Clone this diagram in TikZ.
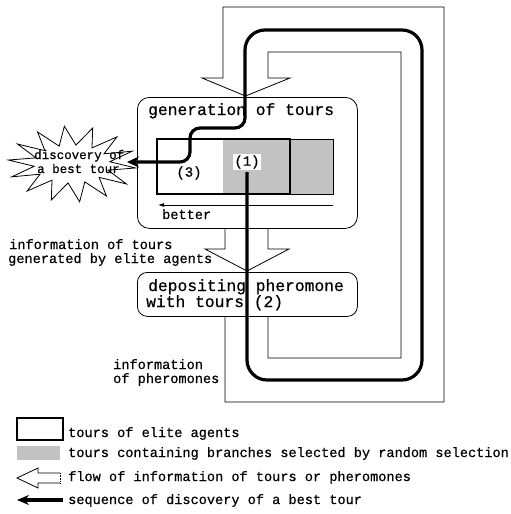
\documentclass[tikz,border=0pt]{standalone}
\usepackage{fontspec}
\setmainfont{Liberation Mono}[FakeBold=0.6]
\usetikzlibrary{arrows.meta}
\begin{document}
\begin{tikzpicture}[x=1pt,y=-1pt,
  thinline/.style={line width=0.8pt, line join=miter},
  box/.style={draw, line width=0.8pt, rounded corners=12, inner sep=0, anchor=north west},
  title/.style={font=\fontsize{16.3}{18}\selectfont, inner sep=0, anchor=base west},
  lbl/.style={font=\fontsize{13.6}{15}\selectfont, inner sep=0, anchor=base west},
  num/.style={font=\fontsize{14}{16}\selectfont, inner sep=1.5},
  shadefill/.style={fill=black!24},
  seq/.style={line width=3.2pt, draw=black},
]
\useasboundingbox (0,0) rectangle (511,514);

% boxes
\node[box, minimum width=220, minimum height=131] (gen) at (137,97) {};
\node[box, rounded corners=10, minimum width=220, minimum height=44] (dep) at (137,272) {};

% big loop band (information of pheromones)
\draw[thinline] (268,316) -- (268,358) -- (401,358) -- (401,52) -- (268,52) -- (268,78)
  -- (290,78) -- (245.5,96) -- (202,78) -- (223,78) -- (223,7) -- (444,7) -- (444,402)
  -- (225,402) -- (225,316);

% arrow generation -> depositing
\draw[thinline] (225,228) -- (225,249) -- (205,249) -- (247,271) -- (289,249) -- (268,249) -- (268,228);

% tours rectangle
\fill[shadefill] (223,139) rectangle (333,194);
\draw[line width=0.8pt] (157,139) rectangle (333,194);
\draw[line width=2.2pt] (157,139) rectangle (290,194);

% better arrow
\draw[line width=0.8pt, -{Latex[length=6,width=4]}] (333,205) -- (158,205);
\node[lbl] (better) at (162,219) {better};

% titles
\node[title] (gentitle) at (148,115) {generation of tours};
\node[title] (dep1) at (148,291) {depositing pheromone};
\node[title] (dep2) at (146,307) {with tours (2)};

% labels
\node[lbl] (info1) at (9,249) {information of tours};
\node[lbl] (info2) at (8,263) {generated by elite agents};
\node[lbl] (pher1) at (113,369) {information};
\node[lbl] (pher2) at (113,383) {of pheromones};

% starburst
\draw[line width=0.8pt, fill=white, line join=miter] plot[domain=0:28, samples=29, variable=\k]
  ({72 + (mod(round(\k),2)==0 ? 64 : 38)*cos(\k*360/28 + 6)},
   {164 + (mod(round(\k),2)==0 ? 38 : 19)*sin(\k*360/28 + 6)}) -- cycle;
\node[font=\fontsize{12.5}{14}\selectfont, inner sep=0, anchor=base west] (disc1) at (34,159) {discovery of};
\node[font=\fontsize{12.5}{14}\selectfont, inner sep=0, anchor=base west] (disc2) at (37,173) {a best tour};
\coordinate (discend) at (127,162);

% numbers
\node[num, fill=white] (one) at (247,162) {(1)};
\node[num] (three) at (189,173) {(3)};

% sequence of discovery of a best tour
\draw[seq, -{Stealth[length=12,width=11]}] (one.south) ++(0,2)
  [rounded corners=20] -- (247,380) -- (422,380) -- (422,30) -- (245,30)
  [rounded corners=10] -- (245,128) -- (190,128) -- (190,162) -- (discend);

% legend
\draw[line width=2.2pt] (17,418) rectangle (63,440);
\node[lbl] (leg1) at (68,437) {tours of elite agents};
\fill[shadefill] (17,446) rectangle (60,460);
\node[lbl] (leg2) at (68,457) {tours containing branches selected by random selection};
\draw[thinline] (60,473) -- (38,473) -- (38,468) -- (17,478) -- (38,488) -- (38,483) -- (60,483);
\draw[line width=0.6pt, densely dotted] (60,473) -- (60,483);
\node[lbl] (leg3) at (68,481) {flow of information of tours or pheromones};
\coordinate (legA) at (63,500);
\coordinate (legB) at (17,500);
\draw[seq, -{Stealth[length=12,width=10]}] (legA) -- (legB);
\node[lbl] (leg4) at (68,504) {sequence of discovery of a best tour};
\end{tikzpicture}
\end{document}
